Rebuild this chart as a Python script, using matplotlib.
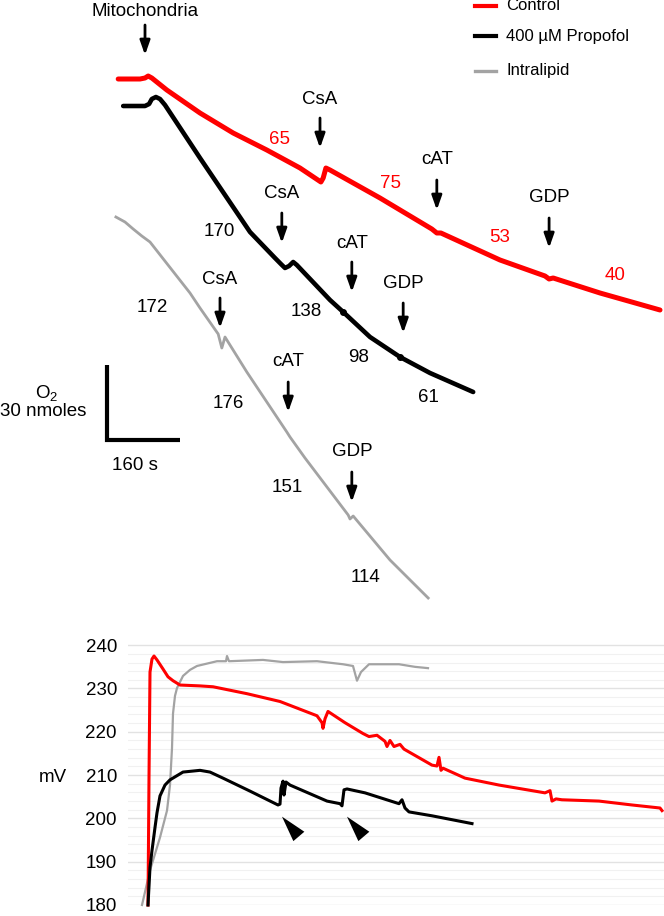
import matplotlib
matplotlib.use("Agg")
import matplotlib.pyplot as plt
from matplotlib.lines import Line2D
from matplotlib.ticker import MultipleLocator
import matplotlib.transforms as mtransforms

plt.rcParams['font.family'] = ['Liberation Sans', 'DejaVu Sans']
plt.rcParams['mathtext.fontset'] = 'custom'
plt.rcParams['mathtext.rm'] = 'Liberation Sans'
plt.rcParams['mathtext.it'] = 'Liberation Sans'

RED = '#ff0000'
GREY = '#a3a3a3'

# ---- O2 consumption traces (time in s, O2 in nmol)
red_t = [260, 308, 319, 326, 334, 367, 440, 513, 587, 660, 706, 711, 717, 726, 836,
         950, 961, 970, 1100, 1199, 1208, 1217, 1320, 1452]
red_o2 = [208.4, 208.4, 208.8, 209.6, 208.8, 204.0, 194.8, 186.8, 180.0, 172.8, 167.2,
          168.8, 172.8, 172.0, 160.8, 148.4, 146.8, 146.8, 136.0, 129.6, 128.4, 128.8,
          122.8, 116.0]

black_t = [271, 319, 328, 334, 343, 352, 363, 440, 550, 605, 618, 627, 636, 645, 653,
           726, 755, 814, 880, 946, 1041]
black_o2 = [197.6, 197.6, 198.4, 200.4, 201.2, 200.4, 198.0, 176.8, 147.2, 136.8, 134.4,
            132.8, 133.6, 135.2, 134.0, 120.0, 115.2, 105.2, 97.2, 90.8, 83.2]

grey_t = [255, 275, 293, 312, 330, 418, 440, 480, 488, 495, 543, 631, 638, 671, 766,
          770, 777, 788, 858, 942]
grey_o2 = [153.2, 151.2, 148.4, 145.6, 143.2, 122.8, 116.8, 106.4, 100.8, 105.2, 91.2,
           67.2, 65.2, 56.8, 34.0, 32.4, 33.6, 31.2, 16.0, 0.8]

additions = ['CsA', 'cAT', 'GDP']
red_add_t = [704, 961, 1208]
black_add_t = [620, 774, 887]
grey_add_t = [484, 634, 774]
mito_t = 319

# respiration rates
red_rates = [65, 75, 53, 40]
black_rates = [170, 138, 98, 61]
grey_rates = [172, 176, 151, 114]

scale_nmol = 30
scale_s = 160

# ---- membrane potential traces (time in chart units, mV)
red_b_t = [20, 21, 22, 24, 26, 29, 35, 40, 45, 52, 72, 85, 119, 152, 189, 194, 195, 197,
           200, 217, 235, 241, 249, 257, 259, 262, 266, 272, 276, 304, 309, 311, 313, 315,
           337, 371, 417, 422, 424, 428, 434, 471, 504, 532, 534]
red_b_mv = [180.0, 209.3, 233.8, 236.8, 237.5, 236.6, 234.5, 232.7, 231.8, 230.8, 230.6,
            230.4, 228.8, 227.0, 223.7, 222.1, 220.8, 223.0, 224.7, 222.1, 219.6, 218.9,
            219.2, 217.8, 216.6, 218.0, 216.6, 217.1, 216.0, 212.3, 212.1, 214.1, 211.1,
            211.6, 209.3, 207.7, 205.9, 206.4, 204.0, 204.5, 204.3, 204.0, 203.1, 202.4,
            201.8]

black_b_t = [20, 22, 24, 27, 29, 32, 37, 42, 55, 72, 82, 95, 122, 150, 152, 153, 155, 156,
             158, 162, 199, 212, 214, 216, 219, 237, 271, 274, 277, 281, 304, 344]
black_b_mv = [180.0, 188.7, 192.6, 197.9, 201.3, 205.2, 207.7, 208.9, 210.7, 211.1, 210.7,
              209.3, 206.3, 203.1, 203.3, 207.0, 208.6, 205.4, 208.4, 207.7, 204.0, 203.4,
              202.9, 206.6, 206.8, 205.9, 203.4, 204.3, 202.4, 201.5, 200.6, 198.8]

grey_b_t = [14, 22, 32, 39, 42, 44, 45, 47, 49, 55, 62, 69, 89, 98, 99, 101, 135, 155, 189,
            215, 225, 229, 233, 241, 271, 287, 300]
grey_b_mv = [180.0, 188.0, 195.6, 201.8, 207.7, 216.2, 224.2, 228.3, 230.1, 232.9, 234.3,
             235.2, 236.3, 236.3, 237.5, 236.3, 236.6, 236.1, 236.3, 235.6, 235.2, 231.8,
             233.8, 235.6, 235.6, 235.0, 234.7]

legend_labels = ['Control', '400 \u00b5M Propofol', 'Intralipid']

FS = 13.5

fig = plt.figure(figsize=(6.64, 9.16), dpi=100)

# ================= top panel =================
ax1 = fig.add_axes([0, 316 / 916, 1, 600 / 916])
ax1.set_xlim(0, 1460.8)
ax1.set_ylim(0, 240)
ax1.axis('off')

ax1.plot(red_t, red_o2, color=RED, lw=3.6, solid_capstyle='round', solid_joinstyle='round')
ax1.plot(black_t, black_o2, color='k', lw=3.3, solid_capstyle='round', solid_joinstyle='round')
ax1.plot(grey_t, grey_o2, color=GREY, lw=2.0, solid_joinstyle='round')
ax1.plot([black_t[16], black_t[18]], [black_o2[16], black_o2[18]], 'o', color='k', ms=4)


def down_arrow(ax, t, top, bottom, label, label_y):
    ax.annotate('', xy=(t, bottom), xytext=(t, top),
                arrowprops=dict(arrowstyle='-|>,head_length=0.85,head_width=0.3',
                                lw=2, color='k', shrinkA=0, shrinkB=0, mutation_scale=10))
    ax.text(t, label_y, label, ha='center', va='center', fontsize=FS)


down_arrow(ax1, mito_t, 230, 218, 'Mitochondria', 235.2)

red_arrow_top = [192.8, 168.0, 152.8]
red_label_y = [200.0, 176.0, 160.8]
black_arrow_top = [154.8, 135.2, 118.8]
black_label_y = [162.8, 142.8, 126.8]
grey_arrow_top = [120.8, 87.2, 51.2]
grey_label_y = [128.4, 95.6, 59.6]
for i, name in enumerate(additions):
    down_arrow(ax1, red_add_t[i], red_arrow_top[i], red_arrow_top[i] - 12, name, red_label_y[i])
    down_arrow(ax1, black_add_t[i], black_arrow_top[i], black_arrow_top[i] - 12, name, black_label_y[i])
    down_arrow(ax1, grey_add_t[i], grey_arrow_top[i], grey_arrow_top[i] - 12, name, grey_label_y[i])

red_rate_pos = [(614, 184.4), (860, 166.4), (1100, 145.2), (1353, 129.6)]
black_rate_pos = [(482, 147.6), (673, 115.2), (788, 97.2), (942, 81.2)]
grey_rate_pos = [(334, 117.2), (502, 78.8), (631, 44.8), (805, 8.8)]
for v, (x, y) in zip(red_rates, red_rate_pos):
    ax1.text(x, y, str(v), color=RED, ha='center', va='center', fontsize=FS)
for v, (x, y) in zip(black_rates, black_rate_pos):
    ax1.text(x, y, str(v), color='k', ha='center', va='center', fontsize=FS)
for v, (x, y) in zip(grey_rates, grey_rate_pos):
    ax1.text(x, y, str(v), color='k', ha='center', va='center', fontsize=FS)

# scale bar
sb_t, sb_o2 = 235, 64
ax1.plot([sb_t, sb_t, sb_t + scale_s], [sb_o2 + scale_nmol, sb_o2, sb_o2],
         color='k', lw=3, solid_joinstyle='miter', solid_capstyle='butt')
ax1.text(103, 82.8, r'O$_2$', ha='center', va='center', fontsize=FS)
ax1.text(95, 75.2, '%d nmoles' % scale_nmol, ha='center', va='center', fontsize=FS)
ax1.text(297, 53.6, '%d s' % scale_s, ha='center', va='center', fontsize=FS)

# legend
leg_y = [1 - 6 / 916, 1 - 36 / 916, 1 - 71 / 916]
leg_c = [RED, 'k', GREY]
leg_w = [3.0, 3.0, 2.4]
for lab, y, c, w in zip(legend_labels, leg_y, leg_c, leg_w):
    fig.add_artist(Line2D([475 / 664, 496 / 664], [y, y], color=c, lw=w,
                          transform=fig.transFigure))
    fig.text(506 / 664, y, lab, ha='left', va='center', fontsize=12)

# ================= bottom panel =================
ax2 = fig.add_axes([128 / 664, 11 / 916, 536 / 664, 265 / 916])
ax2.set_xlim(0, 536)
ax2.set_ylim(180, 241.2)
for s in ax2.spines.values():
    s.set_visible(False)
ax2.set_xticks([])
ax2.set_yticks(range(180, 241, 10))
ax2.yaxis.set_minor_locator(MultipleLocator(2))
ax2.tick_params(which='both', length=0, pad=8, labelsize=FS)
ax2.grid(which='major', axis='y', color='#e2e2e2', lw=1.0)
ax2.grid(which='minor', axis='y', color='#f1f1f1', lw=0.8)
ax2.set_axisbelow(True)

ax2.plot(grey_b_t, grey_b_mv, color=GREY, lw=1.6, clip_on=False)
ax2.plot(red_b_t, red_b_mv, color=RED, lw=2.2, clip_on=False)
ax2.plot(black_b_t, black_b_mv, color='k', lw=2.2, clip_on=False)

trans = mtransforms.blended_transform_factory(ax2.transAxes, ax2.transData)
ax2.text(-0.14, 210, 'mV', ha='center', va='center_baseline', fontsize=FS, transform=trans)

# arrowheads marking the jumps in the propofol trace
for tip_t in [154, 219]:
    ax2.annotate('', xy=(tip_t, 200.4), xytext=(tip_t + 17, 195.8),
                 arrowprops=dict(arrowstyle='-|>,head_length=1.87,head_width=0.52',
                                 lw=0, color='k', shrinkA=0, shrinkB=0, mutation_scale=10))

fig.savefig('out.png', dpi=100)
